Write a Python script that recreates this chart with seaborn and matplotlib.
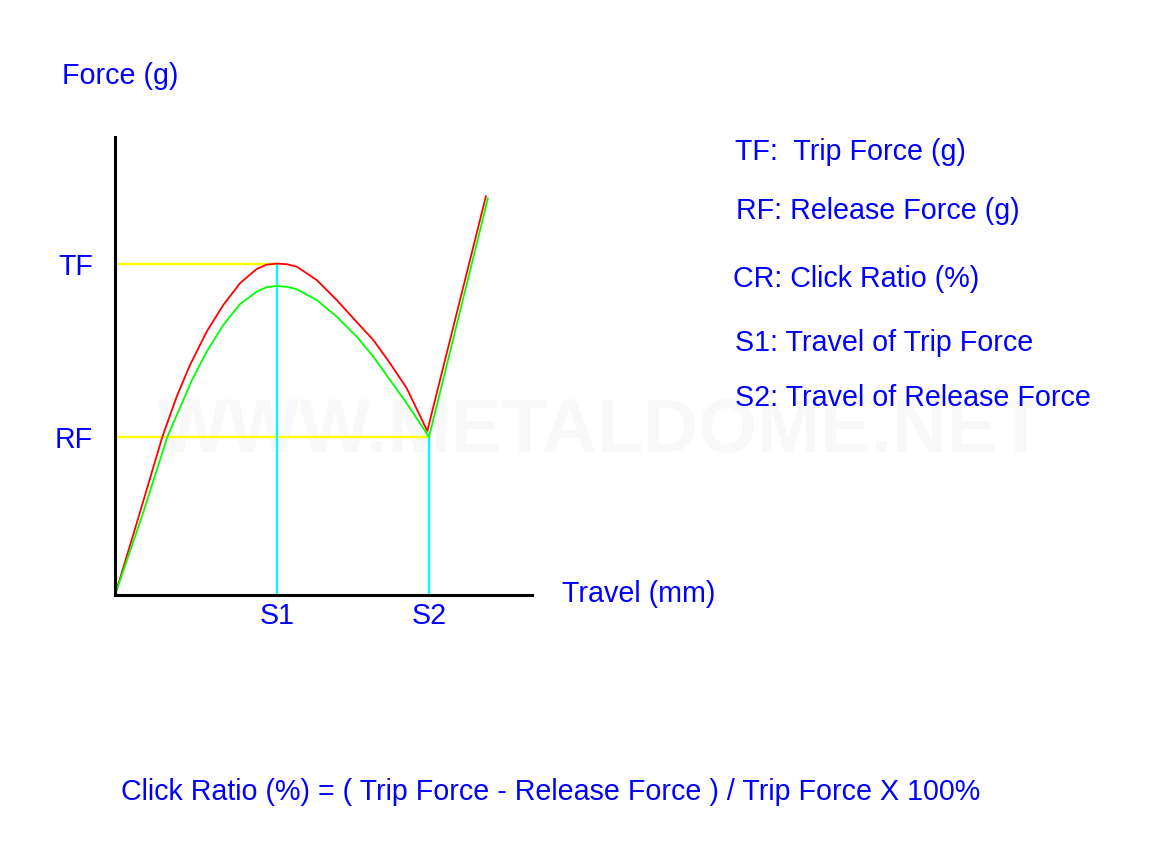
import matplotlib
matplotlib.use("Agg")
import matplotlib.pyplot as plt
import seaborn as sns
import pandas as pd

# ---- data ----
travel_red = [0, 0.247, 0.473, 0.617, 0.75, 0.917, 1.083, 1.25, 1.417, 1.517, 1.617,
              1.717, 1.817, 2.017, 2.217, 2.417, 2.583, 2.75, 2.917, 3.123, 3.71]
force_red = [0, 40.9, 79.0, 99.2, 115.0, 131.7, 145.0, 155.9, 163.0, 165.2, 165.7,
             165.4, 164.2, 157.5, 147.5, 136.5, 127.5, 115.9, 103.4, 82.0, 199.5]
travel_green = [0, 0.28, 0.523, 0.77, 0.917, 1.083, 1.25, 1.417, 1.517, 1.617, 1.717,
                1.817, 2.017, 2.217, 2.417, 2.583, 2.75, 2.917, 3.14, 3.73]
force_green = [0, 40.9, 79.0, 107.5, 121.7, 135.0, 145.4, 151.7, 153.9, 154.5, 154.1,
               152.9, 147.5, 139.2, 129.2, 119.2, 107.5, 95.9, 79.0, 198.5]
S1, S2 = 1.617, 3.14
TF, RF = 165.7, 79.0
x_ticks = [S1, S2]
x_tick_labels = ["S1", "S2"]
y_ticks = [RF, TF]
y_tick_labels = ["RF", "TF"]
legend_lines = ["TF:  Trip Force (g)", "RF: Release Force (g)", "CR: Click Ratio (%)",
                "S1: Travel of Trip Force", "S2: Travel of Release Force"]
formula = "Click Ratio (%) = ( Trip Force - Release Force ) / Trip Force X 100%"

sns.set_theme(style="white")
plt.rcParams["font.family"] = ["Liberation Sans", "DejaVu Sans"]

W, H = 1175, 858
FS = 20.6
fig = plt.figure(figsize=(W / 100, H / 100), dpi=100)
fig.patch.set_facecolor("white")

def fx(px):
    return px / W

def fy(py):
    return 1 - py / H

ax = fig.add_axes([fx(115), fy(595), (532 - 115) / W, (595 - 137) / H])
ax.set_facecolor("none")

df = pd.concat([
    pd.DataFrame({"travel": travel_red, "force": force_red, "curve": "press"}),
    pd.DataFrame({"travel": travel_green, "force": force_green, "curve": "release"}),
])

BLUE = "#0000FF"
# guide lines
ax.plot([0, S1], [TF, TF], color="#FFFF00", lw=1.7, zorder=1)
ax.plot([0, S2], [RF, RF], color="#FFFF00", lw=1.7, zorder=1)
ax.plot([S1, S1], [0, TF], color="#00FFFF", lw=1.7, zorder=1)
ax.plot([S2, S2], [0, RF], color="#00FFFF", lw=1.7, zorder=1)

sns.lineplot(data=df, x="travel", y="force", hue="curve", sort=False, estimator=None,
             palette={"press": "#FF0000", "release": "#00FF00"}, linewidth=1.3,
             legend=False, ax=ax, zorder=2, solid_joinstyle="round")

ax.set_xlim(0, 4.17)
ax.set_ylim(0, 229)
ax.set_xlabel("")
ax.set_ylabel("")
for s in ["top", "right"]:
    ax.spines[s].set_visible(False)
for s in ["left", "bottom"]:
    ax.spines[s].set_color("black")
    ax.spines[s].set_linewidth(2.2)

ax.set_xticks(x_ticks, x_tick_labels)
ax.set_yticks(y_ticks, y_tick_labels)
ax.tick_params(axis="x", length=0, pad=5, labelsize=FS, labelcolor=BLUE)
ax.tick_params(axis="y", length=0, pad=16, labelsize=FS, labelcolor=BLUE)

# watermark
fig.text(fx(601), fy(432), "WWW.METALDOME.NET", fontsize=54.5, fontweight="bold",
         color="#F8F8F8", ha="center", va="center", zorder=-1)

fig.text(fx(62), fy(76), "Force (g)", fontsize=FS, color=BLUE, ha="left", va="center")
fig.text(fx(562), fy(594), "Travel (mm)", fontsize=FS, color=BLUE, ha="left", va="center")

leg_pos = [(735, 152), (736, 211), (733, 279), (735, 343), (735, 398)]
for (px, py), t in zip(leg_pos, legend_lines):
    fig.text(fx(px), fy(py), t, fontsize=FS, color=BLUE, ha="left", va="center")

fig.text(fx(121), fy(792), formula, fontsize=FS, color=BLUE, ha="left", va="center")

fig.savefig("out.png", dpi=100, facecolor="white")
